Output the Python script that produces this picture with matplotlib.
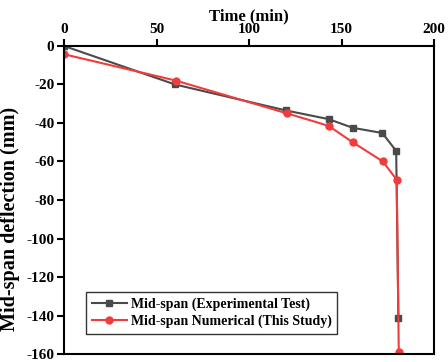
import matplotlib
matplotlib.use("Agg")
import matplotlib.pyplot as plt

# Data
time_exp = [0, 60, 120, 143, 156, 172, 179.5, 180.7]
defl_exp = [0, -20, -33.5, -38, -42.5, -45.2, -54.5, -141.5]
time_num = [0, 60.5, 120.5, 143, 156, 172.3, 179.8, 180.9]
defl_num = [-4.3, -18, -35, -41.5, -50, -60, -69.5, -159]

plt.rcParams['font.family'] = ['Liberation Serif', 'DejaVu Serif']
plt.rcParams['font.weight'] = 'bold'
plt.rcParams['axes.unicode_minus'] = False

fig = plt.figure(figsize=(4.48, 3.62), dpi=100)
ax = fig.add_axes([0.143, 0.022, 0.826, 0.851])

ax.plot(time_exp, defl_exp, color='#4a4a4a', marker='s', markersize=5,
        linewidth=1.5, label='Mid-span (Experimental Test)')
ax.plot(time_num, defl_num, color='#f03c3c', marker='o', markersize=5,
        linewidth=1.5, label='Mid-span Numerical (This Study)')

ax.set_xlim(0, 200)
ax.set_ylim(-160, 0)
ax.set_xticks([0, 50, 100, 150, 200])
ax.set_yticks(range(-160, 1, 20))
ax.xaxis.tick_top()
ax.xaxis.set_label_position('top')
ax.set_xlabel('Time (min)', fontsize=12, fontweight='bold', labelpad=2)
ax.set_ylabel('Mid-span deflection (mm)', fontsize=14.5, fontweight='bold', labelpad=2)
ax.yaxis.set_label_coords(-0.12, 0.44)
ax.tick_params(axis='both', labelsize=11, width=1.5, length=5, direction='out', pad=2)
for s in ax.spines.values():
    s.set_linewidth(1.5)

leg = ax.legend(loc='lower left', bbox_to_anchor=(0.06, 0.065), fontsize=10,
                frameon=True, fancybox=False, edgecolor='black',
                handlelength=2.5, handletextpad=0.3, borderpad=0.4,
                labelspacing=0.25, borderaxespad=0)
leg.get_frame().set_linewidth(1.0)
for t in leg.get_texts():
    t.set_fontweight('bold')

fig.savefig("out.png", dpi=100)
